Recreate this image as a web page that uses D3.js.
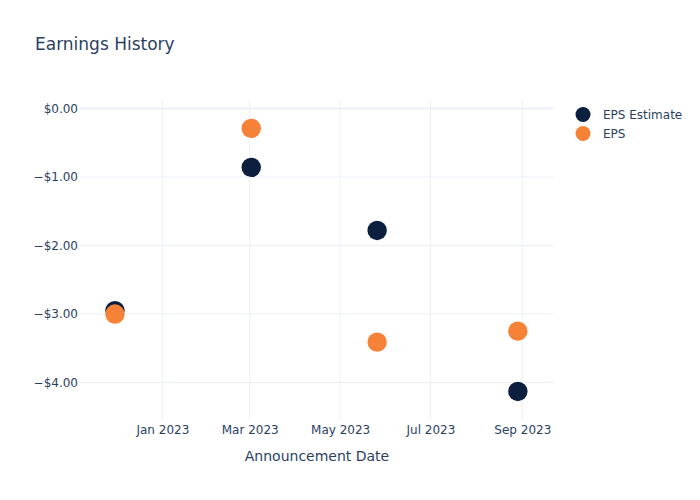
<!DOCTYPE html>
<html><head><meta charset="utf-8">
<script src="https://cdn.jsdelivr.net/npm/d3@7"></script>
<style>body{margin:0;background:#fff}svg{display:block}text{font-family:"DejaVu Sans",Verdana,sans-serif}</style>
</head><body>
<svg id="c" width="700" height="500"></svg>
<script>
const dates = ["2022-11-30","2023-03-02","2023-05-26","2023-08-29"];
const epsEstimate = [-2.95,-0.86,-1.78,-4.13];
const eps = [-3.00,-0.29,-3.41,-3.25];
const seriesNames = ["EPS Estimate","EPS"];
const seriesColors = ["#0d1f3f","#f58236"];
const xTicks = ["2023-01-01","2023-03-01","2023-05-01","2023-07-01","2023-09-01"];
const yTicks = [0,-1,-2,-3,-4];

const parse = d3.utcParse("%Y-%m-%d");
const svg = d3.select("#c");
const L=80,R=554,T=100,B=420;
const x = d3.scaleUtc().domain([parse("2022-11-06T12:00:00".slice(0,10)),parse("2023-09-22")]).range([L-0.6,R-0.6]);
const y = d3.scaleLinear().domain([0.124,-4.547]).range([T,B]);
const txt="#2a3f5f", grid="#ebf0f8";

svg.append("text").attr("x",35).attr("y",50).attr("font-size",17).attr("fill",txt).text("Earnings History");

const g=svg.append("g");
g.selectAll(".xg").data(xTicks).join("line").attr("x1",d=>x(parse(d))).attr("x2",d=>x(parse(d)))
 .attr("y1",T).attr("y2",B).attr("stroke",grid).attr("stroke-width",1);
g.selectAll(".yg").data(yTicks).join("line").attr("x1",L).attr("x2",R)
 .attr("y1",d=>y(d)).attr("y2",d=>y(d)).attr("stroke",grid).attr("stroke-width",d=>d===0?2:1);

const fmt = d => (d<0?"\u2212":"")+"$"+Math.abs(d).toFixed(2);
const yAxis = d3.axisLeft(y).tickValues(yTicks).tickFormat(fmt).tickSize(0).tickPadding(2);
const ya = svg.append("g").attr("transform",`translate(${L},0)`).call(yAxis);
ya.select(".domain").remove();
ya.selectAll("text").attr("font-size",12).attr("fill",txt).style("font-family","DejaVu Sans");

const xAxis = d3.axisBottom(x).tickValues(xTicks.map(parse)).tickFormat(d3.utcFormat("%b %Y")).tickSize(0).tickPadding(5);
const xa = svg.append("g").attr("transform",`translate(0,${B})`).call(xAxis);
xa.select(".domain").remove();
xa.selectAll("text").attr("font-size",12).attr("fill",txt).style("font-family","DejaVu Sans");

svg.append("text").attr("x",(L+R)/2).attr("y",461).attr("text-anchor","middle").attr("font-size",14).attr("fill",txt).text("Announcement Date");

const series=[epsEstimate,eps];
series.forEach((vals,i)=>{
  svg.append("g").selectAll("circle").data(vals).join("circle")
    .attr("cx",(d,j)=>x(parse(dates[j]))).attr("cy",d=>y(d)).attr("r",9.7)
    .attr("fill",seriesColors[i]);
});

const leg=svg.append("g");
seriesNames.forEach((n,i)=>{
  leg.append("circle").attr("cx",583).attr("cy",114.5+i*19).attr("r",7.5).attr("fill",seriesColors[i]);
  leg.append("text").attr("x",603).attr("y",119+i*19).attr("font-size",12).attr("fill",txt).text(n);
});
</script>
</body></html>
